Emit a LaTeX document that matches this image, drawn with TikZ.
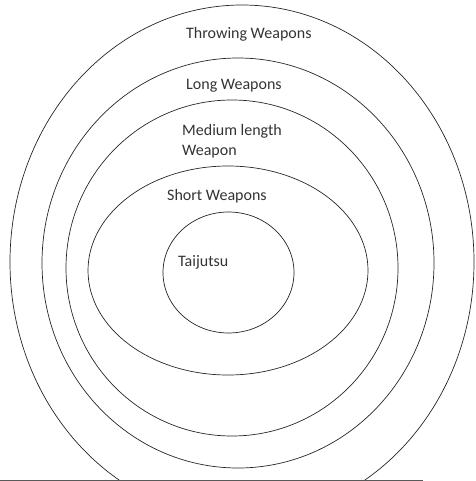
\documentclass[tikz,border=0pt]{standalone}
\usepackage{fontspec}
\setmainfont{Carlito}
\begin{document}
\begin{tikzpicture}[
    x=1pt, y=-1pt,
    ring/.style={draw=black!85, line width=0.7pt},
    ringlabel/.style={anchor=base west, inner sep=0pt, text=black!80,
        font=\fontsize{16}{20}\selectfont, align=left}
]
    \useasboundingbox (0,0) rectangle (475,481);
    \clip (0,0) rectangle (475,481);

    % Rings, outside in
    \draw[ring] (242,262) ellipse [x radius=232, y radius=257];
    \draw[ring] (238,263) ellipse [x radius=196, y radius=205];
    \draw[ring] (232,268) ellipse [x radius=166, y radius=168];
    \draw[ring] (228,270.5) ellipse [x radius=140, y radius=104.5];
    \draw[ring] (228.5,272.5) ellipse [x radius=65.5, y radius=60.5];

    % Labels
    \node[ringlabel] (throw) at (186,39) {Throwing Weapons};
    \node[ringlabel] (long) at (186,90) {Long Weapons};
    \node[ringlabel] (medium) at (182,136) {Medium length};
    \node[ringlabel] (medium2) at (182,156) {Weapon};
    \node[ringlabel] (short) at (167,200.5) {Short Weapons};
    \node[ringlabel] (taijutsu) at (178,266.5) {Taijutsu};

    % Base line
    \draw[draw=black!65, line width=1pt] (0,480) -- (423,480);
\end{tikzpicture}
\end{document}
